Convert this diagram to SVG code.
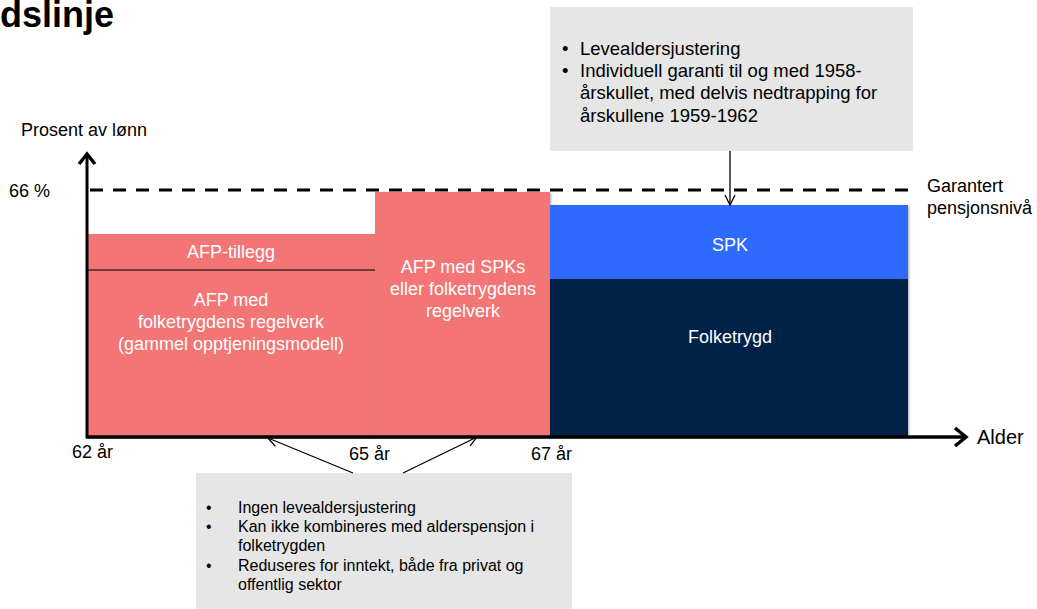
<svg xmlns="http://www.w3.org/2000/svg" width="1037" height="609" viewBox="0 0 1037 609">
<defs>
<style>
text{font-family:"Liberation Sans",Arial,sans-serif;}
.t18{font-size:18px;fill:#000;}
.w{font-size:18px;fill:#fff;text-anchor:middle;}
.b16{font-size:16px;fill:#000;}
.b18{font-size:18.5px;fill:#000;}
.red{fill:#f47575;}
.conn{stroke:#000;stroke-width:1.3;fill:none;marker-end:url(#open);}
</style>
<marker id="open" viewBox="0 0 12 12" refX="11" refY="6" markerWidth="12" markerHeight="12" markerUnits="userSpaceOnUse" orient="auto">
<path d="M1,1 L11,6 L1,11" fill="none" stroke="#000" stroke-width="1.3"/>
</marker>
<filter id="sh" x="-5%" y="-5%" width="110%" height="110%">
<feDropShadow dx="1" dy="1" stdDeviation="1" flood-color="#000" flood-opacity="0.35"/>
</filter>
</defs>
<rect width="1037" height="609" fill="#fff"/>
<text x="0" y="27" style="font-size:36px;font-weight:bold;fill:#000">dslinje</text>

<g id="box-top">
<rect x="550" y="7" width="363" height="144" fill="#e6e6e6"/>
<text class="b18" x="562" y="55">•</text>
<text class="b18" x="580" y="55">Levealdersjustering</text>
<text class="b18" x="562" y="77">•</text>
<text class="b18" x="580" y="77">Individuell garanti til og med 1958-</text>
<text class="b18" x="580" y="99">årskullet, med delvis nedtrapping for</text>
<text class="b18" x="580" y="122">årskullene 1959-1962</text>
</g>

<g id="axes">
<text class="t18" x="21" y="136">Prosent av lønn</text>
<text class="t18" x="9" y="197">66 %</text>
<line x1="90" y1="190" x2="913" y2="190" stroke="#000" stroke-width="3" stroke-dasharray="13 10"/>
<text class="t18" x="927" y="192">Garantert</text>
<text class="t18" x="927" y="214">pensjonsnivå</text>
</g>

<g id="afp-gammel">
<rect class="red" x="87" y="234" width="288" height="203" filter="url(#sh)"/>
<line x1="87" y1="270" x2="375" y2="270" stroke="#000" stroke-width="1.2"/>
<text class="w" x="231" y="258">AFP-tillegg</text>
<text class="w" x="231" y="306">AFP med</text>
<text class="w" x="231" y="328">folketrygdens regelverk</text>
<text class="w" x="231" y="350">(gammel opptjeningsmodell)</text>
</g>

<g id="afp-spk">
<rect class="red" x="375" y="192" width="175" height="245" filter="url(#sh)"/>
<text class="w" x="463" y="273">AFP med SPKs</text>
<text class="w" x="463" y="295">eller folketrygdens</text>
<text class="w" x="463" y="317">regelverk</text>
</g>

<g id="spk">
<rect x="550" y="205" width="358" height="74" fill="#2e6bff" filter="url(#sh)"/>
<text class="w" x="730" y="251">SPK</text>
</g>

<g id="folketrygd">
<rect x="550" y="279" width="358" height="158" fill="#052249" filter="url(#sh)"/>
<text class="w" x="730" y="343">Folketrygd</text>
</g>

<g id="axis-lines" stroke="#000" fill="none">
<line x1="87" y1="438" x2="87" y2="154" stroke-width="3"/>
<path d="M79,164 L87,154 L95,164" stroke-width="3.5"/>
<line x1="86" y1="437" x2="964" y2="437" stroke-width="3.5"/>
<path d="M955,428 L966,437 L955,446" stroke-width="3.5"/>
</g>
<text class="t18" x="977" y="444" style="font-size:20px">Alder</text>
<text class="t18" x="72" y="458">62 år</text>
<text class="t18" x="349" y="460">65 år</text>
<text class="t18" x="531" y="460">67 år</text>

<g id="box-bottom">
<rect x="196" y="473" width="376" height="136" fill="#e6e6e6"/>
<text class="b16" x="206" y="513">•</text>
<text class="b16" x="238" y="513">Ingen levealdersjustering</text>
<text class="b16" x="206" y="532">•</text>
<text class="b16" x="238" y="532">Kan ikke kombineres med alderspensjon i</text>
<text class="b16" x="238" y="551">folketrygden</text>
<text class="b16" x="206" y="571">•</text>
<text class="b16" x="238" y="571">Reduseres for inntekt, både fra privat og</text>
<text class="b16" x="238" y="590">offentlig sektor</text>
</g>

<g id="connectors">
<line class="conn" x1="730" y1="151" x2="730" y2="205"/>
<line class="conn" x1="353" y1="473" x2="268" y2="438"/>
<line class="conn" x1="403" y1="473" x2="477" y2="437"/>
</g>
</svg>
